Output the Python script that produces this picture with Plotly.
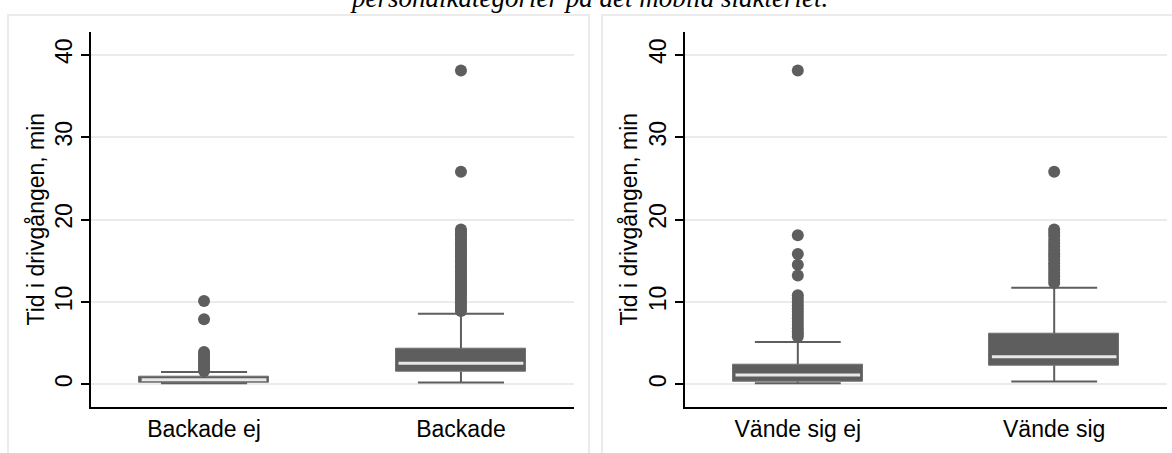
import plotly.graph_objects as go

W, H = 1172, 453

# ---------------- data ----------------
left_categories = ["Backade ej", "Backade"]
right_categories = ["Vände sig ej", "Vände sig"]

left_q1 = [0.20, 1.53]
left_median = [0.55, 2.55]
left_q3 = [0.92, 4.37]
left_lower = [0.12, 0.20]
left_upper = [1.49, 8.57]
left_outliers_0 = [10.1, 7.9, 3.9, 3.6, 3.3, 3.0, 2.7, 2.4, 2.1, 1.8, 1.6]
left_outliers_1 = [38.1, 25.8, 18.8, 18.5, 18.2, 17.9, 17.6, 17.3, 17.0, 16.7,
                   16.4, 16.1, 15.8, 15.5, 15.2, 14.9, 14.6, 14.3, 14.0, 13.7,
                   13.4, 13.1, 12.8, 12.5, 12.2, 11.9, 11.6, 11.3, 11.0, 10.7,
                   10.4, 10.1, 9.8, 9.5, 9.2, 8.9]

right_q1 = [0.32, 2.26]
right_median = [1.13, 3.35]
right_q3 = [2.43, 6.19]
right_lower = [0.12, 0.32]
right_upper = [5.13, 11.72]
right_outliers_0 = [38.1, 18.1, 15.8, 14.5, 13.2, 10.8, 10.4, 10.0, 9.6, 9.2,
                    8.8, 8.4, 8.0, 7.6, 7.2, 6.8, 6.4, 6.1, 5.8]
right_outliers_1 = [25.8, 18.8, 18.4, 18.0, 17.5, 17.1, 16.7, 16.3, 15.9, 15.5,
                    15.1, 14.7, 14.3, 13.9, 13.5, 13.1, 12.7, 12.3]

y_ticks = [0, 10, 20, 30, 40]
y_title = "Tid i drivgången, min"
title_text = "personalkategorier på det mobila slakteriet."

# ---------------- style ----------------
GRAY = "#5e5e5e"
MEDIAN = "#e8e8e8"
GRID = "#ebebeb"
FONT = "Liberation Sans, Arial, sans-serif"
FS = 23
BOX_W = 0.506
CAP_W = 0.335

fig = go.Figure()


def add_panel(fig, xa, ya, q1, med, q3, lo, hi, outliers):
    for i in range(len(q1)):
        pos = i + 1
        # whiskers
        fig.add_trace(go.Scatter(
            x=[pos, pos, None, pos, pos, None,
               pos - CAP_W / 2, pos + CAP_W / 2, None,
               pos - CAP_W / 2, pos + CAP_W / 2],
            y=[q3[i], hi[i], None, q1[i], lo[i], None,
               hi[i], hi[i], None, lo[i], lo[i]],
            mode="lines", line=dict(color=GRAY, width=2),
            xaxis=xa, yaxis=ya, showlegend=False, hoverinfo="skip"))
        # box
        fig.add_trace(go.Bar(
            x=[pos], y=[q3[i] - q1[i]], base=[q1[i]], width=BOX_W,
            marker=dict(color=GRAY, line=dict(color="#707070", width=1)),
            xaxis=xa, yaxis=ya, showlegend=False, hoverinfo="skip"))
        # median
        fig.add_trace(go.Scatter(
            x=[pos - BOX_W / 2 + 0.01, pos + BOX_W / 2 - 0.01],
            y=[med[i], med[i]],
            mode="lines", line=dict(color=MEDIAN, width=3),
            xaxis=xa, yaxis=ya, showlegend=False, hoverinfo="skip"))
        # outliers
        fig.add_trace(go.Scatter(
            x=[pos] * len(outliers[i]), y=outliers[i], mode="markers",
            marker=dict(color=GRAY, size=12, line=dict(width=0)),
            xaxis=xa, yaxis=ya, showlegend=False, hoverinfo="skip"))


add_panel(fig, "x", "y", left_q1, left_median, left_q3, left_lower, left_upper,
          [left_outliers_0, left_outliers_1])
add_panel(fig, "x2", "y2", right_q1, right_median, right_q3, right_lower, right_upper,
          [right_outliers_0, right_outliers_1])

y_dom = [(H - 407.3) / H, (H - 31.7) / H]
yaxis_common = dict(
    range=[-2.8, 42.8], tickvals=y_ticks, ticktext=[str(t) for t in y_ticks],
    tickangle=-90, showgrid=True, gridcolor=GRID, gridwidth=2,
    showline=True, linecolor="black", linewidth=1.5,
    ticks="outside", ticklen=8, tickwidth=1.5, tickcolor="black",
    tickfont=dict(family=FONT, size=FS, color="black"),
    zeroline=False, domain=y_dom, fixedrange=True)
xaxis_common = dict(
    range=[0.56, 2.44], tickvals=[1, 2], showgrid=False,
    showline=True, linecolor="black", linewidth=1.5, ticks="",
    tickfont=dict(family=FONT, size=FS, color="black"),
    zeroline=False, fixedrange=True)

fig.update_layout(
    width=W, height=H,
    margin=dict(l=0, r=0, t=0, b=0),
    paper_bgcolor="white", plot_bgcolor="white",
    bargap=0,
    xaxis=dict(**xaxis_common, domain=[91 / W, 574 / W], ticktext=left_categories,
               anchor="y"),
    yaxis=dict(**yaxis_common, anchor="x"),
    xaxis2=dict(**xaxis_common, domain=[685 / W, 1167 / W], ticktext=right_categories,
                anchor="y2"),
    yaxis2=dict(**yaxis_common, anchor="x2"),
    showlegend=False,
)

# panel borders
for x0, x1 in [(8, 589), (602, 1185)]:
    fig.add_shape(type="rect", xref="paper", yref="paper",
                  x0=x0 / W, x1=x1 / W, y0=-0.2, y1=(H - 15) / H,
                  line=dict(color=GRID, width=2), fillcolor="rgba(0,0,0,0)",
                  layer="below")

# y axis titles
for xc in [35, 628]:
    fig.add_annotation(text=y_title, xref="paper", yref="paper",
                       x=xc / W, y=(H - 219.5) / H, showarrow=False,
                       textangle=-90, xanchor="center", yanchor="middle",
                       font=dict(family=FONT, size=FS, color="black"))

# figure title (top partly cut off, as in the source image)
fig.add_annotation(text=title_text, xref="paper", yref="paper",
                   x=589 / W, y=1 + 2.5 / H, showarrow=False,
                   xanchor="center", yanchor="middle",
                   font=dict(family="Liberation Serif, Times New Roman, serif",
                             size=27, color="black", style="italic"))

fig.write_html("out.html")
